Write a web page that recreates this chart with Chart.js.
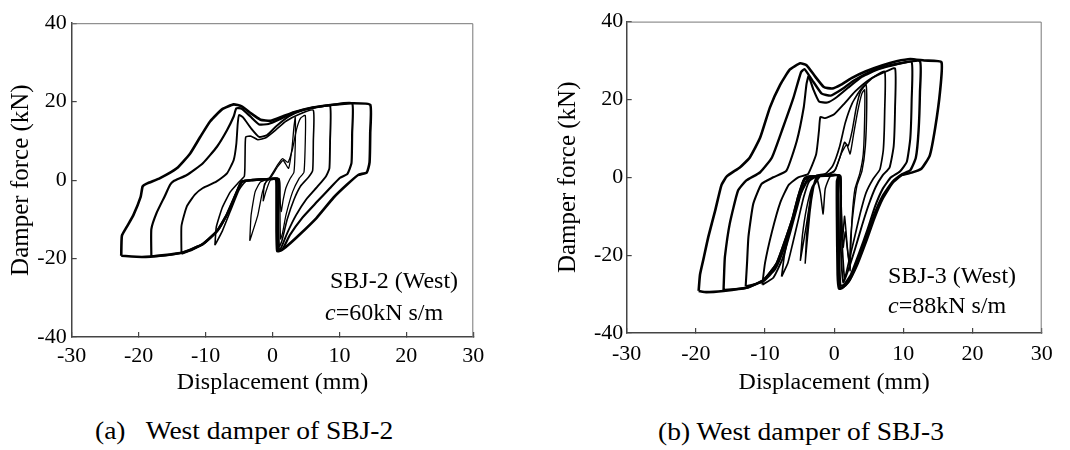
<!DOCTYPE html>
<html>
<head>
<meta charset="utf-8">
<script src="https://cdn.jsdelivr.net/npm/chart.js@4.4.1/dist/chart.umd.min.js"></script>
<style>
  body { margin: 0; width: 1070px; height: 450px; background: #fff; position: relative; overflow: hidden;
         font-family: 'Liberation Serif', 'Times New Roman', serif; color: #000; }
  .panel { position: absolute; top: 0; width: 535px; height: 400px; }
  .note { position: absolute; font-size: 24px; line-height: 24px; white-space: pre; }
  .caption { position: absolute; font-size: 25px; line-height: 25px; white-space: pre;
             transform: scaleX(1.1); transform-origin: left center; }
</style>
</head>
<body>
<div class="panel" style="left:0"><canvas id="chartA" width="535" height="400"></canvas></div>
<div class="panel" style="left:535px"><canvas id="chartB" width="535" height="400"></canvas></div>

<div class="note" style="left:330px;top:268px">SBJ-2 (West)</div>
<div class="note" style="left:325px;top:300px"><i>c</i>=60kN s/m</div>
<div class="note" style="left:888px;top:263px">SBJ-3 (West)</div>
<div class="note" style="left:888px;top:293px"><i>c</i>=88kN s/m</div>

<div class="caption" style="left:95px;top:418px">(a)   West damper of SBJ-2</div>
<div class="caption" style="left:658px;top:419px">(b) West damper of SBJ-3</div>

<script>
// ejes
const xTicks = [-30, -20, -10, 0, 10, 20, 30];
const yTicks = [-40, -20, 0, 20, 40];

/* SBJ-2 (West) : [desplazamiento mm, fuerza kN] */
const sbj2Loop1 = [[-22.6,-19.3],[-22.5,-14.2],[-21.8,-12.0],[-20.8,-9.0],[-19.7,-4.3],[-19.4,-1.6],[-18.8,-0.9],[-16.8,0.5],[-14.3,3.0],[-12.3,6.8],[-10.8,11.0],[-9.3,15.0],[-7.5,18.1],[-5.8,19.3],[-4.6,18.8],[-3.2,17.0],[-1.8,15.4],[-0.3,15.1],[1.5,16.2],[3.2,17.3],[6.0,18.5],[9.0,19.2],[11.8,19.6],[14.6,19.2],
  [14.6,12.0],[14.5,4.5],[14.1,2.0],[12.8,1.3],[11.1,-1.2],[9.1,-4.5],[6.6,-9.6],[4.1,-13.8],[2.3,-16.6],[1.2,-18.0],[0.7,-18.1],
  [0.6,-13.0],[0.6,-3.0],[0.5,0.2],[-1.0,0.2],[-3.0,0.0],[-4.6,-0.4],[-5.3,-2.9],[-6.8,-8.7],[-8.3,-13.0],[-10.4,-16.3],[-13.3,-18.4],[-16.5,-19.2],[-19.5,-19.6],[-22.6,-19.3]];
const sbj2Loop2 = [[-18.1,-19.4],[-18.1,-12.5],[-17.3,-8.3],[-16.1,-4.1],[-15.3,-1.2],[-14.8,-0.3],[-12.8,1.3],[-10.4,4.3],[-8.3,8.5],[-6.8,12.7],[-5.8,16.2],[-5.4,18.3],[-4.6,18.2],[-3.3,16.2],[-2.0,14.2],[-0.6,14.3],[1.2,15.6],[3.2,17.2],[6.0,18.5],[9.0,19.2],[11.9,19.6],
  [11.9,12.0],[11.8,4.3],[11.2,1.6],[10.1,0.6],[8.6,-2.0],[6.5,-5.8],[4.5,-9.5],[2.6,-14.0],[1.5,-17.6],[0.9,-18.0],
  [0.8,-10.0],[0.8,0.3],[-1.0,0.2],[-3.0,0.0],[-4.6,-0.4],[-5.3,-2.9],[-6.8,-8.7],[-8.3,-13.0],[-10.4,-16.3],[-13.3,-18.4],[-16.0,-19.2],[-18.1,-19.4]];
const sbj2Loop3 = [[-13.6,-18.8],[-13.6,-11.7],[-12.8,-6.7],[-11.6,-3.7],[-10.4,-2.0],[-8.4,-0.4],[-6.8,1.7],[-5.8,5.1],[-5.4,9.3],[-5.2,14.3],[-5.0,16.6],[-4.4,16.0],[-3.2,13.2],[-2.0,11.0],[-0.8,11.5],[0.6,13.8],[2.5,16.3],[4.5,17.8],[6.5,18.5],[8.6,18.9],
  [8.6,10.0],[8.5,3.0],[8.0,1.0],[6.8,-1.5],[5.0,-5.0],[3.5,-9.0],[2.2,-13.5],[1.3,-17.2],[0.9,-17.8],
  [0.8,-9.0],[0.8,0.4],[-1.0,0.3],[-3.0,0.1],[-4.4,-0.3],[-5.2,-2.5],[-6.5,-7.8],[-8.0,-12.5],[-10.0,-15.8],[-12.0,-17.8],[-13.6,-18.8]];
const sbj2Loop4 = [[-8.6,-16.6],[-8.4,-12.0],[-7.5,-7.0],[-6.3,-3.0],[-5.0,-0.5],[-4.2,1.0],[-4.1,6.0],[-4.0,11.0],[-3.2,11.2],[-2.2,10.3],[-1.0,10.8],[0.5,12.8],[2.0,15.0],[4.0,16.8],[6.1,17.8],
  [6.1,10.0],[6.0,2.5],[5.4,0.8],[4.2,-1.5],[3.2,-5.0],[2.2,-10.0],[1.4,-15.5],[1.0,-17.0],
  [0.9,-8.0],[0.9,0.4],[-0.5,0.3],[-2.5,0.1],[-4.0,-0.3],[-5.0,-2.5],[-6.2,-7.5],[-7.5,-13.0],[-8.6,-16.6]];
const sbj2Loop5 = [[-3.4,-15.5],[-3.2,-9.0],[-2.6,-3.0],[-1.8,-0.5],[-0.5,0.5],[0.8,4.0],[1.5,5.5],[2.3,4.5],[3.0,8.0],[3.6,13.0],[4.2,15.8],[4.9,16.5],
  [4.9,10.0],[4.7,2.0],[4.0,0.5],[3.0,-3.0],[2.0,-9.0],[1.5,-13.5],[1.2,-15.0],
  [1.1,-6.0],[1.0,0.3],[-0.8,0.0],[-1.5,-3.0],[-2.2,-9.0],[-3.4,-15.5]];
const sbj2Loop6 = [[-1.4,-5.4],[-1.2,-1.0],[-0.2,0.8],[0.8,3.5],[1.6,5.0],[2.4,3.0],[2.9,8.0],[3.2,13.5],[3.4,16.0],
  [3.4,9.0],[3.2,2.0],[2.6,0.3],[2.0,-2.0],[1.6,-5.0],[1.3,-8.0],[1.1,-4.0],[1.0,0.2],[-0.3,0.0],[-0.9,-2.5],[-1.4,-5.4]];

/* SBJ-3 (West) */
const sbj3Loop1 = [[-19.6,-29.2],[-19.4,-25.0],[-18.9,-21.0],[-18.2,-15.3],[-17.2,-8.5],[-16.3,-2.0],[-15.5,0.3],[-13.6,2.6],[-12.2,5.1],[-10.7,10.2],[-9.3,17.9],[-7.8,23.8],[-6.4,27.7],[-4.9,29.3],[-4.0,28.8],[-2.8,26.0],[-1.5,23.2],[-0.3,22.8],[1.0,23.8],[2.5,25.5],[4.5,27.2],[7.0,28.8],[9.0,29.8],[11.0,30.4],[13.0,30.0],[15.5,29.6],
  [15.3,22.0],[14.6,12.7],[13.8,5.5],[12.6,2.2],[11.2,1.2],[9.8,0.6],[8.4,-1.5],[7.0,-5.5],[5.8,-10.5],[4.6,-16.5],[3.3,-22.5],[2.0,-27.0],[1.1,-28.5],[0.7,-28.6],
  [0.5,-25.0],[0.4,-10.0],[0.4,-1.0],[0.6,0.5],[-1.0,0.5],[-2.5,0.3],[-3.5,0.2],[-4.3,-0.4],[-5.2,-5.0],[-6.0,-10.5],[-6.9,-15.3],[-8.3,-22.1],[-10.2,-26.4],[-12.7,-28.4],[-16.0,-29.2],[-18.5,-29.5],[-19.6,-29.2]];
const sbj3Loop2 = [[-16.0,-29.0],[-15.9,-24.0],[-15.8,-20.4],[-15.1,-11.9],[-13.9,-3.4],[-12.7,-0.8],[-10.7,1.3],[-9.0,5.1],[-7.4,12.8],[-5.9,20.4],[-4.8,27.0],[-4.3,27.8],[-3.0,24.5],[-1.8,21.5],[-0.5,21.0],[1.0,22.5],[2.8,24.8],[4.8,26.8],[7.0,28.3],[9.5,29.3],[12.4,29.8],
  [12.4,22.0],[12.2,12.0],[11.8,5.0],[11.0,1.8],[9.8,0.8],[8.4,-1.2],[7.0,-4.8],[5.8,-9.5],[4.6,-15.5],[3.4,-21.5],[2.2,-26.5],[1.3,-28.2],[0.8,-28.4],
  [0.6,-20.0],[0.5,-5.0],[0.6,0.5],[-1.0,0.5],[-2.5,0.3],[-3.5,0.2],[-4.3,-0.4],[-5.2,-5.0],[-6.0,-10.5],[-6.9,-15.3],[-8.3,-22.1],[-10.2,-26.4],[-12.7,-28.4],[-16.0,-29.0]];
const sbj3Loop3 = [[-12.8,-28.0],[-12.6,-22.0],[-12.4,-15.3],[-11.7,-6.8],[-10.5,-1.7],[-8.8,0.0],[-6.9,1.7],[-5.4,9.4],[-4.4,18.0],[-4.0,24.0],[-3.7,26.0],[-3.0,22.5],[-2.2,19.5],[-1.0,19.2],[0.3,20.5],[2.0,23.0],[4.0,25.8],[6.5,27.8],[9.0,29.0],[11.2,29.6],
  [11.2,20.0],[11.0,10.0],[10.5,4.0],[9.5,1.5],[8.2,0.0],[7.0,-3.0],[5.9,-7.5],[4.8,-13.5],[3.6,-19.5],[2.4,-25.0],[1.4,-27.6],[0.9,-27.8],
  [0.7,-18.0],[0.6,-3.0],[0.6,0.5],[-1.0,0.5],[-2.5,0.3],[-3.6,0.1],[-4.4,-0.8],[-5.3,-6.0],[-6.2,-12.0],[-7.2,-18.0],[-8.5,-23.5],[-10.3,-26.8],[-12.8,-28.0]];
const sbj3Loop4 = [[-10.4,-27.6],[-10.0,-22.0],[-9.0,-14.0],[-7.8,-6.5],[-6.6,-2.0],[-5.2,0.0],[-3.8,0.8],[-2.6,6.0],[-2.2,12.0],[-2.0,15.5],[-1.3,15.2],[0.0,16.2],[1.5,19.0],[3.0,22.0],[5.0,25.0],[7.0,26.8],[8.8,28.0],
  [8.8,18.0],[8.6,8.0],[8.0,2.5],[7.0,0.5],[6.0,-2.5],[5.0,-7.0],[4.0,-12.5],[3.0,-18.5],[2.0,-24.0],[1.3,-27.0],
  [0.9,-15.0],[0.8,0.4],[-1.0,0.4],[-2.6,0.2],[-3.8,-0.3],[-4.6,-3.0],[-5.4,-8.0],[-6.4,-14.5],[-7.5,-21.0],[-8.8,-25.8],[-10.4,-27.6]];
const sbj3Loop5 = [[-7.6,-25.5],[-7.2,-20.0],[-6.2,-12.0],[-5.0,-5.0],[-3.8,-0.8],[-2.5,0.5],[-1.2,1.0],[-0.2,3.0],[0.8,8.0],[1.6,14.0],[2.6,19.0],[3.8,22.5],[5.5,25.5],[7.3,27.2],
  [7.3,17.0],[7.1,7.0],[6.6,2.0],[5.6,-0.5],[4.6,-4.0],[3.8,-9.0],[3.0,-15.0],[2.2,-21.0],[1.5,-26.0],
  [1.0,-12.0],[0.9,0.4],[-0.8,0.4],[-2.5,0.2],[-3.6,-1.0],[-4.4,-5.0],[-5.2,-11.0],[-6.0,-17.0],[-6.7,-22.0],[-7.6,-25.5]];
const sbj3Loop6 = [[-4.9,-21.5],[-4.6,-15.0],[-4.0,-8.0],[-3.2,-2.5],[-2.2,0.2],[-1.0,0.8],[0.0,1.5],[0.8,5.0],[1.5,9.0],[2.0,8.0],[2.6,12.0],[3.2,18.0],[3.8,22.0],[4.6,23.8],
  [4.7,18.0],[4.5,8.0],[4.0,1.5],[3.3,-2.0],[2.8,-8.0],[2.4,-15.0],[2.2,-22.0],[1.9,-18.0],[1.5,-10.0],[1.2,-16.0],[1.0,-8.0],[0.9,0.4],
  [-0.5,0.5],[-1.3,-3.0],[-1.6,-9.4],[-2.0,-4.0],[-2.6,0.0],[-3.3,-4.0],[-4.0,-12.0],[-4.9,-21.5]];
const sbj3Loop7 = [[-4.2,-22.2],[-4.0,-15.0],[-3.6,-8.0],[-3.0,-2.5],[-2.0,0.3],[-0.8,0.8],[0.2,2.0],[1.0,6.0],[1.8,8.4],[2.3,6.0],[2.8,11.0],[3.4,17.0],[4.0,21.5],[4.4,22.5],
  [4.4,15.0],[4.2,6.0],[3.7,1.0],[3.0,-3.0],[2.6,-10.0],[2.4,-18.0],[2.3,-24.0],[2.0,-20.0],[1.6,-14.0],[1.3,-18.0],[1.0,-6.0],[0.9,0.4],
  [-1.0,0.4],[-2.5,0.1],[-3.0,-3.0],[-3.5,-9.0],[-4.2,-22.2]];

const serif = "Liberation Serif";

// marco fino arriba y a la derecha
const framePlugin = {
  id: 'frame',
  afterDraw(chart) {
    const { ctx, chartArea: a } = chart;
    ctx.save();
    ctx.strokeStyle = '#777';
    ctx.lineWidth = 1;
    ctx.beginPath();
    ctx.moveTo(a.left, a.top + 0.5);
    ctx.lineTo(a.right - 0.5, a.top + 0.5);
    ctx.lineTo(a.right - 0.5, a.bottom);
    ctx.stroke();
    ctx.restore();
  }
};

function makeChart(id, loops, widths, box) {
  const ctx = document.getElementById(id).getContext('2d');
  const axisColor = '#444';
  return new Chart(ctx, {
    type: 'scatter',
    data: {
      datasets: loops.map((pts, i) => ({
        data: pts.map(p => ({ x: p[0], y: p[1] })),
        showLine: true,
        borderColor: '#000',
        borderWidth: widths[i],
        pointRadius: 0,
        fill: false,
        tension: 0.15
      }))
    },
    options: {
      responsive: false,
      animation: false,
      devicePixelRatio: 1,
      layout: { padding: { left: 0, top: box.top, right: box.right, bottom: 0 } },
      plugins: { legend: { display: false }, tooltip: { enabled: false } },
      scales: {
        x: {
          type: 'linear', min: -30, max: 30,
          afterBuildTicks: s => { s.ticks = xTicks.map(v => ({ value: v })); },
          afterFit: s => { s.height = box.xh; },
          border: { display: true, color: axisColor, width: 1.5 },
          grid: { drawOnChartArea: false, drawTicks: true, tickLength: -5, color: axisColor, lineWidth: 1.2 },
          ticks: { color: '#000', padding: box.xpad, maxRotation: 0, autoSkip: false, font: { family: serif, size: 22 } },
          title: { display: true, text: 'Displacement (mm)', color: '#000', padding: { top: 0, bottom: 2.6 }, font: { family: serif, size: 24 } }
        },
        y: {
          type: 'linear', min: -40, max: 40,
          afterBuildTicks: s => { s.ticks = yTicks.map(v => ({ value: v })); },
          afterFit: s => { s.width = box.yw; },
          border: { display: true, color: axisColor, width: 1.5 },
          grid: { drawOnChartArea: false, drawTicks: true, tickLength: -5, color: axisColor, lineWidth: 1.2 },
          ticks: { color: '#000', padding: box.ypad, autoSkip: false, font: { family: serif, size: 22 } },
          title: { display: true, text: 'Damper force (kN)', color: '#000', padding: { top: box.ytp, bottom: 0 }, font: { family: serif, size: 25 } }
        }
      }
    },
    plugins: [framePlugin]
  });
}

function drawAll() {
  makeChart('chartA',
    [sbj2Loop1, sbj2Loop2, sbj2Loop3, sbj2Loop4, sbj2Loop5, sbj2Loop6],
    [2.6, 2.2, 1.9, 1.6, 1.3, 1.3],
    { top: 20, right: 61.7, yw: 71.7, xh: 63, xpad: 10.8, ypad: 10, ytp: 6.7 });

  makeChart('chartB',
    [sbj3Loop1, sbj3Loop2, sbj3Loop3, sbj3Loop4, sbj3Loop5, sbj3Loop6, sbj3Loop7],
    [2.6, 2.4, 2.1, 1.9, 1.7, 1.5, 1.4],
    { top: 19.3, right: 28.3, yw: 91.7, xh: 67, xpad: 12.8, ypad: 8.4, ytp: 18.3 });
}

// espera a que la fuente serif este lista para el canvas
document.fonts.load("22px 'Liberation Serif'").then(drawAll, drawAll);
</script>
</body>
</html>
